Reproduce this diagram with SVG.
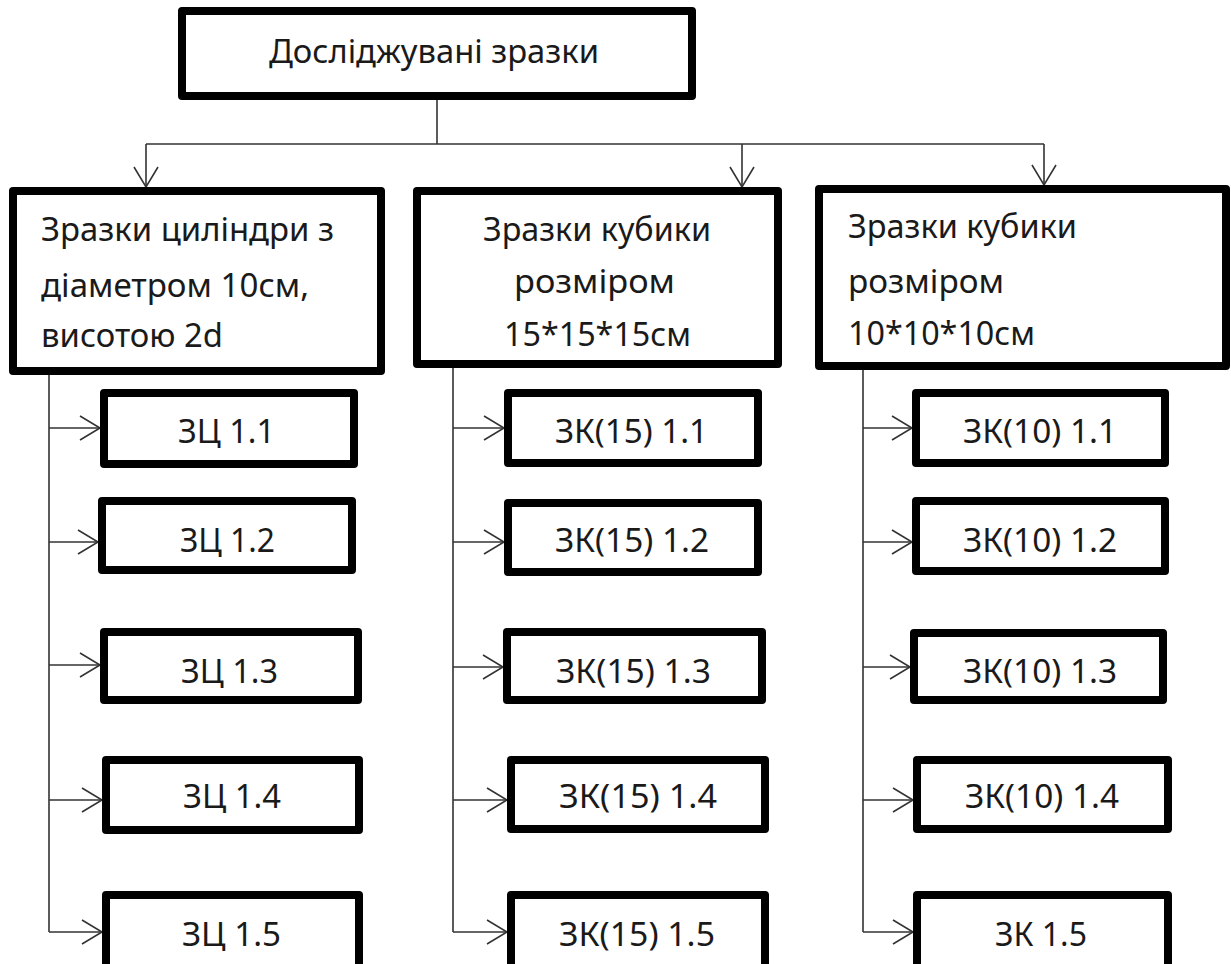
<svg xmlns="http://www.w3.org/2000/svg" width="1231" height="964" viewBox="0 0 1231 964">
<style>
.box{fill:#fff;stroke:#000;stroke-width:8;stroke-linejoin:round}
.t{font-family:"Noto Sans","Open Sans","DejaVu Sans",sans-serif;font-size:32px;fill:#1a1a1a}
.ln{fill:none;stroke:#333;stroke-width:1.6}
</style>
<defs>
<marker id="arr" markerUnits="userSpaceOnUse" markerWidth="24" markerHeight="28" refX="21" refY="13" orient="auto" viewBox="0 0 24 28">
<path d="M1,1 L21,13 L1,25" fill="none" stroke="#333" stroke-width="1.6"/>
</marker>
</defs>
<rect width="1231" height="964" fill="#fff"/>
<g id="connectors">
<path class="ln" d="M437,100 V144"/>
<path class="ln" d="M146,144 H1044"/>
<path class="ln" d="M146,144 V187" marker-end="url(#arr)"/>
<path class="ln" d="M742,144 V187" marker-end="url(#arr)"/>
<path class="ln" d="M1044,144 V185" marker-end="url(#arr)"/>
<path class="ln" d="M49,375 V932"/>
<path class="ln" d="M49,428 H100" marker-end="url(#arr)"/>
<path class="ln" d="M49,542 H98" marker-end="url(#arr)"/>
<path class="ln" d="M49,665 H100" marker-end="url(#arr)"/>
<path class="ln" d="M49,800 H102" marker-end="url(#arr)"/>
<path class="ln" d="M49,932 H102" marker-end="url(#arr)"/>
<path class="ln" d="M453,368 V932"/>
<path class="ln" d="M453,428 H504" marker-end="url(#arr)"/>
<path class="ln" d="M453,542 H504" marker-end="url(#arr)"/>
<path class="ln" d="M453,667 H503" marker-end="url(#arr)"/>
<path class="ln" d="M453,800 H507" marker-end="url(#arr)"/>
<path class="ln" d="M453,932 H507" marker-end="url(#arr)"/>
<path class="ln" d="M863,370 V932"/>
<path class="ln" d="M863,428 H912" marker-end="url(#arr)"/>
<path class="ln" d="M863,542 H912" marker-end="url(#arr)"/>
<path class="ln" d="M863,667 H910" marker-end="url(#arr)"/>
<path class="ln" d="M863,800 H913" marker-end="url(#arr)"/>
<path class="ln" d="M863,932 H913" marker-end="url(#arr)"/>
</g>
<g id="root">
<rect class="box" x="182" y="11" width="510" height="85"/>
<text class="t" x="269" y="63" textLength="330" lengthAdjust="spacingAndGlyphs">Досліджувані зразки</text>
</g>
<g id="cyl">
<rect class="box" x="13" y="191" width="368" height="180"/>
<text class="t" x="41" y="241" textLength="293" lengthAdjust="spacingAndGlyphs">Зразки циліндри з</text>
<text class="t" x="41" y="297" textLength="268" lengthAdjust="spacingAndGlyphs">діаметром 10см,</text>
<text class="t" x="41" y="347" textLength="182" lengthAdjust="spacingAndGlyphs">висотою 2d</text>
</g>
<g id="cube15">
<rect class="box" x="417" y="191" width="361" height="173"/>
<text class="t" x="483" y="241" textLength="228" lengthAdjust="spacingAndGlyphs">Зразки кубики</text>
<text class="t" x="514" y="293" textLength="161" lengthAdjust="spacingAndGlyphs">розміром</text>
<text class="t" x="504" y="346" textLength="187" lengthAdjust="spacingAndGlyphs">15*15*15см</text>
</g>
<g id="cube10">
<rect class="box" x="819" y="189" width="407" height="177"/>
<text class="t" x="848" y="238" textLength="229" lengthAdjust="spacingAndGlyphs">Зразки кубики</text>
<text class="t" x="848" y="293" textLength="156" lengthAdjust="spacingAndGlyphs">розміром</text>
<text class="t" x="848" y="345" textLength="187" lengthAdjust="spacingAndGlyphs">10*10*10см</text>
</g>
<g id="zc11"><rect class="box" x="104" y="393" width="250" height="71"/><text class="t" x="178" y="443" textLength="97" lengthAdjust="spacingAndGlyphs">ЗЦ 1.1</text></g>
<g id="zc12"><rect class="box" x="102" y="501" width="250" height="69"/><text class="t" x="180" y="552" textLength="95" lengthAdjust="spacingAndGlyphs">ЗЦ 1.2</text></g>
<g id="zc13"><rect class="box" x="104" y="632" width="254" height="68"/><text class="t" x="181" y="683" textLength="97" lengthAdjust="spacingAndGlyphs">ЗЦ 1.3</text></g>
<g id="zc14"><rect class="box" x="106" y="760" width="253" height="70"/><text class="t" x="183" y="808" textLength="98" lengthAdjust="spacingAndGlyphs">ЗЦ 1.4</text></g>
<g id="zc15"><rect class="box" x="106" y="895" width="253" height="90"/><text class="t" x="182" y="946" textLength="99" lengthAdjust="spacingAndGlyphs">ЗЦ 1.5</text></g>
<g id="zk15-11"><rect class="box" x="508" y="393" width="250" height="70"/><text class="t" x="555" y="443" textLength="153" lengthAdjust="spacingAndGlyphs">ЗК(15) 1.1</text></g>
<g id="zk15-12"><rect class="box" x="508" y="503" width="250" height="69"/><text class="t" x="555" y="552" textLength="154" lengthAdjust="spacingAndGlyphs">ЗК(15) 1.2</text></g>
<g id="zk15-13"><rect class="box" x="507" y="632" width="255" height="68"/><text class="t" x="556" y="683" textLength="155" lengthAdjust="spacingAndGlyphs">ЗК(15) 1.3</text></g>
<g id="zk15-14"><rect class="box" x="511" y="760" width="254" height="69"/><text class="t" x="559" y="808" textLength="158" lengthAdjust="spacingAndGlyphs">ЗК(15) 1.4</text></g>
<g id="zk15-15"><rect class="box" x="511" y="895" width="254" height="90"/><text class="t" x="559" y="946" textLength="156" lengthAdjust="spacingAndGlyphs">ЗК(15) 1.5</text></g>
<g id="zk10-11"><rect class="box" x="916" y="393" width="249" height="70"/><text class="t" x="963" y="443" textLength="154" lengthAdjust="spacingAndGlyphs">ЗК(10) 1.1</text></g>
<g id="zk10-12"><rect class="box" x="916" y="501" width="249" height="70"/><text class="t" x="963" y="552" textLength="154" lengthAdjust="spacingAndGlyphs">ЗК(10) 1.2</text></g>
<g id="zk10-13"><rect class="box" x="914" y="633" width="249" height="67"/><text class="t" x="963" y="683" textLength="154" lengthAdjust="spacingAndGlyphs">ЗК(10) 1.3</text></g>
<g id="zk10-14"><rect class="box" x="917" y="760" width="251" height="69"/><text class="t" x="965" y="808" textLength="154" lengthAdjust="spacingAndGlyphs">ЗК(10) 1.4</text></g>
<g id="zk10-15"><rect class="box" x="917" y="895" width="251" height="90"/><text class="t" x="995" y="946" textLength="92" lengthAdjust="spacingAndGlyphs">ЗК 1.5</text></g>
</svg>
